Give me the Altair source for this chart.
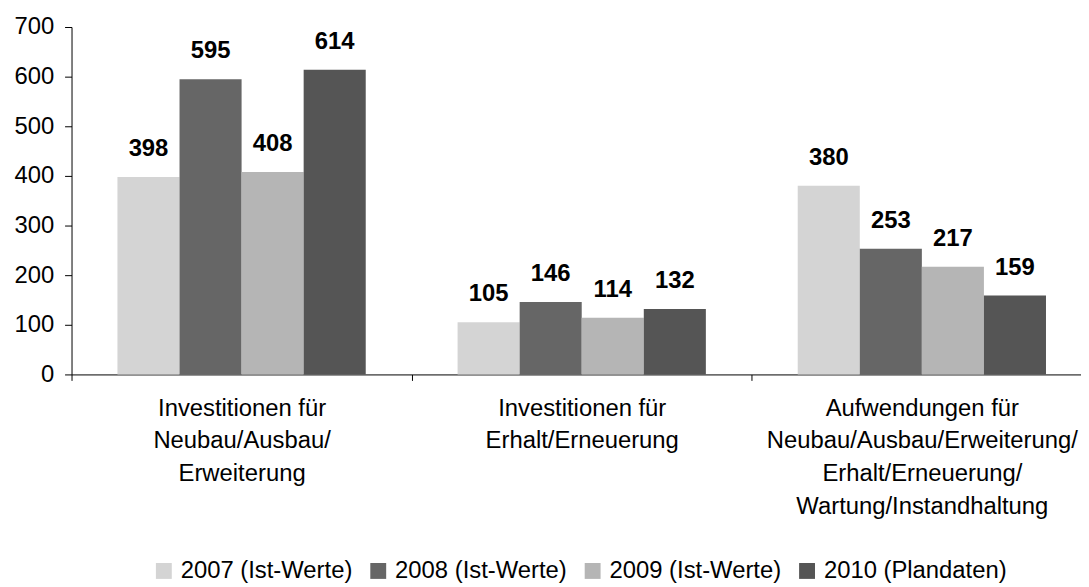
import altair as alt
import pandas as pd

categories = [
    "Investitionen für|Neubau/Ausbau/|Erweiterung",
    "Investitionen für|Erhalt/Erneuerung",
    "Aufwendungen für|Neubau/Ausbau/Erweiterung/|Erhalt/Erneuerung/|Wartung/Instandhaltung",
]
series = ["2007 (Ist-Werte)", "2008 (Ist-Werte)", "2009 (Ist-Werte)", "2010 (Plandaten)"]
v2007 = [398, 105, 380]
v2008 = [595, 146, 253]
v2009 = [408, 114, 217]
v2010 = [614, 132, 159]
colors = ["#d4d4d4", "#666666", "#b5b5b5", "#555555"]
y_ticks = [0, 100, 200, 300, 400, 500, 600, 700]

rows = []
for s, vals in zip(series, [v2007, v2008, v2009, v2010]):
    for c, v in zip(categories, vals):
        rows.append({"Kategorie": c, "Serie": s, "Wert": v})
df = pd.DataFrame(rows)

FONT = "Liberation Sans"

x_enc = alt.X(
    "Kategorie:N",
    sort=categories,
    title=None,
    scale=alt.Scale(paddingInner=0, paddingOuter=0, range=[0, 1028]),
    axis=alt.Axis(
        labelExpr="split(datum.label, '|')",
        labelAngle=0,
        labelFont=FONT,
        labelFontSize=24,
        labelLineHeight=33,
        labelColor="#000000",
        labelPadding=16,
        tickBand="extent",
        tickSize=6,
        tickColor="#000000",
        domainColor="#000000",
        labelLimit=0,
    ),
)
xoff = alt.XOffset(
    "Serie:N",
    sort=series,
    scale=alt.Scale(paddingInner=0, paddingOuter=0.74),
)
y_enc = alt.Y(
    "Wert:Q",
    title=None,
    scale=alt.Scale(domain=[0, 700], nice=False),
    axis=alt.Axis(
        values=y_ticks,
        grid=False,
        labelFont=FONT,
        labelFontSize=24,
        labelColor="#000000",
        labelPadding=11,
        tickSize=7,
        tickColor="#000000",
        domainColor="#000000",
    ),
)

bars = alt.Chart(df).mark_bar().encode(
    x=x_enc,
    xOffset=xoff,
    y=y_enc,
    color=alt.Color(
        "Serie:N",
        sort=series,
        scale=alt.Scale(domain=series, range=colors),
        legend=alt.Legend(
            title=None,
            orient="none",
            direction="horizontal",
            legendX=81,
            legendY=536,
            symbolType="square",
            symbolSize=256,
            symbolStrokeWidth=0,
            labelFont=FONT,
            labelFontSize=24,
            labelColor="#000000",
            labelOffset=5,
            columnPadding=14,
            labelLimit=0,
        ),
    ),
)

labels = alt.Chart(df).mark_text(
    font=FONT, fontSize=24, fontWeight="bold", color="#000000", baseline="alphabetic", dy=-21
).encode(
    x=alt.X("Kategorie:N", sort=categories),
    xOffset=alt.XOffset("Serie:N", sort=series),
    y="Wert:Q",
    text="Wert:Q",
)

chart = (
    alt.layer(bars, labels)
    .properties(
        width=1017,
        height=350,
        autosize=alt.AutoSizeParams(type="none"),
        padding={"left": 64, "top": 17, "right": 0, "bottom": 212},
    )
    .configure_view(stroke=None)
)

chart.save("out.html", embed_options={"renderer": "svg", "actions": False})
